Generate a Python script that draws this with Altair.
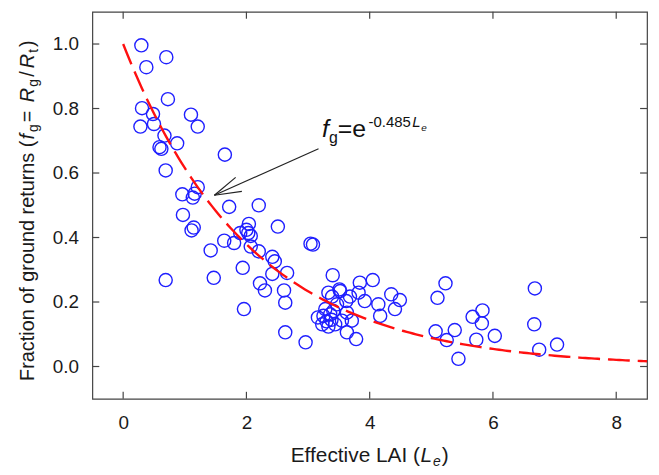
import math
import altair as alt
import pandas as pd

# ---------------- data ----------------
lai = [0.295, 0.70, 0.376, 0.726, 0.306, 0.484, 0.28, 0.50, 1.10, 1.21, 0.67, 0.876, 0.59, 0.62, 1.65, 0.69,
       0.96, 1.21, 1.16, 1.13, 1.72, 2.20, 0.97, 1.145, 1.11, 2.04, 2.00, 1.90, 2.03, 2.07, 1.64, 1.80, 1.42,
       2.07, 2.20, 1.94, 1.47, 0.69, 2.22, 2.30, 1.96,
       2.51, 3.04, 3.08, 2.42, 2.46, 2.66, 2.42, 3.40, 2.61, 2.63, 3.51, 3.84, 4.05, 3.33, 3.39, 3.68, 3.82,
       3.92, 4.14, 4.35, 4.49, 4.41, 4.17, 3.47, 3.28, 3.63, 3.71, 2.63, 2.96, 3.63, 3.78, 3.52, 3.62,
       3.16, 3.25, 3.36, 3.41, 3.23, 3.33, 3.44, 3.55, 3.38, 3.30,
       5.23, 5.10, 5.07, 5.25, 5.38, 5.44, 5.67, 5.83, 5.82, 5.73, 6.03, 6.68, 6.67, 6.75, 7.04]
frac = [0.996, 0.959, 0.928, 0.829, 0.801, 0.783, 0.744, 0.752, 0.781, 0.744, 0.716, 0.692, 0.680, 0.675, 0.657, 0.608,
        0.534, 0.556, 0.536, 0.524, 0.495, 0.500, 0.470, 0.431, 0.422, 0.442, 0.424, 0.414, 0.414, 0.405, 0.390, 0.383, 0.360,
        0.372, 0.357, 0.306, 0.275, 0.268, 0.258, 0.236, 0.178,
        0.434, 0.381, 0.378, 0.340, 0.326, 0.290, 0.287, 0.283, 0.236, 0.198, 0.239, 0.260, 0.268, 0.229, 0.217, 0.217, 0.229,
        0.203, 0.193, 0.224, 0.206, 0.178, 0.157, 0.193, 0.178, 0.167, 0.142, 0.106, 0.075, 0.106, 0.085, 0.234, 0.203,
        0.152, 0.157, 0.162, 0.172, 0.131, 0.124, 0.131, 0.142, 0.145, 0.140,
        0.258, 0.213, 0.109, 0.082, 0.113, 0.024, 0.154, 0.174, 0.134, 0.083, 0.095, 0.242, 0.131, 0.052, 0.068]
x_ticks = [0, 2, 4, 6, 8]
y_ticks = [0.0, 0.2, 0.4, 0.6, 0.8, 1.0]
fit_k = 0.485
arrow_tail = (3.17, 0.675)
arrow_tip = (1.48, 0.531)
eq_anchor = (3.226, 0.711)

# ---------------- layout / style ----------------
W, H = 559, 390
XDOM = [-0.5, 8.5]
YDOM = [-0.1, 1.1]
FONT = "Liberation Sans"
INK = "#1a1a1a"
FRAME = "#444444"
PXX = W / (XDOM[1] - XDOM[0])
PXY = H / (YDOM[1] - YDOM[0])

xs = alt.Scale(domain=XDOM, nice=False, zero=False)
ys = alt.Scale(domain=YDOM, nice=False, zero=False)
xaxis = alt.Axis(values=x_ticks, format="d", title=None, domain=False, ticks=False, tickSize=0,
                 grid=False, labelFont=FONT, labelFontSize=19, labelColor=INK, labelPadding=15)
yaxis = alt.Axis(values=y_ticks, format=".1f", title=None, domain=False, ticks=False, tickSize=0,
                 grid=False, labelFont=FONT, labelFontSize=19, labelColor=INK, labelPadding=14)


def X(f):
    return alt.X(f, type="quantitative", scale=xs, axis=xaxis)


def Y(f):
    return alt.Y(f, type="quantitative", scale=ys, axis=yaxis)


layers = []

# scatter
pts = alt.Chart(pd.DataFrame({"L": lai, "f": frac})).mark_point(
    shape="circle", filled=False, color="#1f1fff", size=175, strokeWidth=1.4, opacity=1
).encode(x=X("L"), y=Y("f"))
layers.append(pts)

# fitted curve
curve = alt.Chart(alt.sequence(0, 8.56, 0.05, as_="L")).transform_calculate(
    fit=f"exp(-{fit_k}*datum.L)"
).mark_line(color="#ff1010", strokeWidth=2.4, strokeDash=[22, 8], clip=True).encode(
    x=X("L"), y=Y("fit"))
layers.append(curve)

# inward ticks on all four sides
tx = pd.DataFrame({"t": x_ticks})
ty = pd.DataFrame({"t": y_ticks})
tk = dict(color=FRAME, strokeWidth=1.2)
layers.append(alt.Chart(tx).mark_rule(**tk).encode(x=X("t"), y=alt.value(H), y2=alt.value(H - 7)))
layers.append(alt.Chart(tx).mark_rule(**tk).encode(x=X("t"), y=alt.value(0), y2=alt.value(7)))
layers.append(alt.Chart(ty).mark_rule(**tk).encode(y=Y("t"), x=alt.value(0), x2=alt.value(7)))
layers.append(alt.Chart(ty).mark_rule(**tk).encode(y=Y("t"), x=alt.value(W), x2=alt.value(W - 7)))

# arrow (shaft + open head)
dxp = (arrow_tail[0] - arrow_tip[0]) * PXX
dyp = -(arrow_tail[1] - arrow_tip[1]) * PXY
th = math.atan2(dyp, dxp)
segs = [dict(x=arrow_tail[0], y=arrow_tail[1], x2=arrow_tip[0], y2=arrow_tip[1])]
for s in (-1, 1):
    a = th + s * math.radians(16)
    segs.append(dict(x=arrow_tip[0], y=arrow_tip[1],
                     x2=arrow_tip[0] + 28 * math.cos(a) / PXX,
                     y2=arrow_tip[1] - 28 * math.sin(a) / PXY))
layers.append(alt.Chart(pd.DataFrame(segs)).mark_rule(color="#222222", strokeWidth=1.2).encode(
    x=X("x"), y=Y("y"), x2="x2", y2="y2"))


# equation text pieces (anchored in data coords, offsets in px)
def eq_piece(text, dx, dy, size, italic=False):
    df = pd.DataFrame({"x": [eq_anchor[0]], "y": [eq_anchor[1]], "t": [text]})
    return alt.Chart(df).mark_text(
        align="left", baseline="alphabetic", dx=dx, dy=dy, fontSize=size, font=FONT,
        fontStyle="italic" if italic else "normal", color="#111111"
    ).encode(x=X("x"), y=Y("y"), text="t:N")


layers += [
    eq_piece("f", 0, 0, 25, True),
    eq_piece("g", 7, 6, 16),
    eq_piece("=e", 16, 0, 25),
    eq_piece("-0.485", 47, -10, 15),
    eq_piece("L", 91, -10, 15, True),
    eq_piece("e", 100, -6.5, 10, True),
]


# axis titles composed of pieces (positions in view px)
def free_text(text, x, y, size, italic=False, angle=0):
    return alt.Chart(pd.DataFrame({"t": [text]})).mark_text(
        align="left", baseline="alphabetic", angle=angle, fontSize=size, font=FONT,
        fontStyle="italic" if italic else "normal", color=INK
    ).encode(x=alt.value(x), y=alt.value(y), text="t:N")


EM = {"E": .667, "f": .278, "e": .556, "c": .5, "t": .278, "i": .222, "v": .5, " ": .278,
      "L": .556, "A": .667, "I": .278, "(": .333, ")": .333, "F": .611, "r": .333, "a": .556,
      "o": .556, "n": .556, "g": .556, "u": .556, "d": .556, "s": .5, "=": .584, "R": .722, "/": .278}


def wid(s, size):
    return sum(EM.get(ch, .55) for ch in s) * size


# y title (rotated, reading upwards), laid out piece after piece
yx = -59
TS = 20
SUB = 14
y_seq = [("Fraction of ground returns (", TS, False, 0, 1.0),
         ("f", TS, True, 0, 2.0),
         ("g", SUB, False, 4, 2.0),
         ("=", TS, False, 0, wid(" ", TS) + 3.0),
         ("R", TS, True, 0, 1.0),
         ("g", SUB, False, 4, 2.5),
         ("/", TS, False, 0, 3.0),
         ("R", TS, True, 0, 1.0),
         ("t", SUB, False, 4, 2.0),
         (")", TS, False, 0, 0.0)]
ypos = 372.0
for t, sz, it, off, gap in y_seq:
    layers.append(free_text(t, yx + off, ypos, sz, it, angle=270))
    ypos -= wid(t, sz) + gap

# x title
base = "Effective LAI ("
XT = 21
total = wid(base, XT) + wid("L", XT) + 1 + wid("e", SUB) + 1 + wid(")", XT)
x0 = W / 2 - total / 2
xb = 454
layers.append(free_text(base, x0, xb, XT))
x1 = x0 + wid(base, XT)
layers.append(free_text("L", x1, xb, XT, True))
x2 = x1 + wid("L", XT) + 1
layers.append(free_text("e", x2, xb + 4, SUB, True))
x3 = x2 + wid("e", SUB) + 1
layers.append(free_text(")", x3, xb, XT))

chart = alt.layer(*layers).properties(
    width=W, height=H,
    autosize=alt.AutoSizeParams(type="none"),
    padding={"left": 85, "top": 2, "right": 4, "bottom": 70},
).configure_view(stroke=FRAME, strokeWidth=1.2)

chart.save("out.html", embed_options={"renderer": "svg", "actions": False})
